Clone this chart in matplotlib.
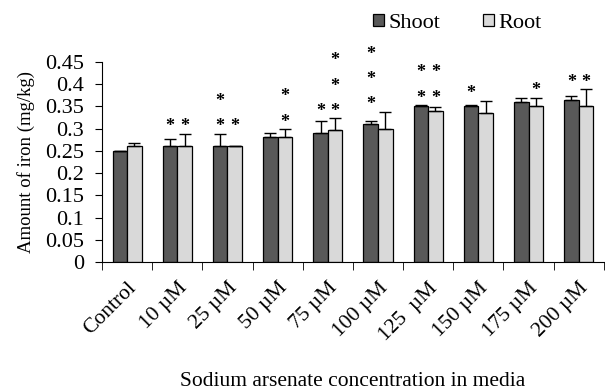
import numpy as np
import matplotlib
matplotlib.use('Agg')
import matplotlib.pyplot as plt

plt.rcParams['font.family'] = ['Liberation Serif', 'DejaVu Serif']

categories = ['Control', '10 µM', '25 µM', '50 µM', '75 µM', '100 µM',
              '125  µM', '150 µM', '175 µM', '200 µM']
shoot = [0.250, 0.260, 0.260, 0.281, 0.290, 0.310, 0.351, 0.351, 0.360, 0.364]
shoot_err = [0.000, 0.017, 0.029, 0.009, 0.027, 0.008, 0.002, 0.002, 0.009, 0.009]
root = [0.260, 0.260, 0.260, 0.281, 0.296, 0.299, 0.339, 0.336, 0.351, 0.351]
root_err = [0.008, 0.029, 0.001, 0.018, 0.027, 0.039, 0.009, 0.027, 0.018, 0.038]
# number of significance stars above each bar
shoot_stars = [0, 1, 2, 0, 1, 3, 2, 1, 0, 1]
root_stars = [0, 1, 1, 2, 3, 0, 2, 0, 1, 1]

shoot_color = '#595959'
root_color = '#d9d9d9'
width = 0.29
fontsize = 16

fig = plt.figure(figsize=(6.05, 3.9), dpi=100)
ax = fig.add_axes([0.1686, 0.328, 0.8294, 0.513])

x = np.arange(len(categories))
ax.bar(x - width / 2, shoot, width, color=shoot_color, edgecolor='black',
       linewidth=0.9, label='Shoot', zorder=2)
ax.bar(x + width / 2, root, width, color=root_color, edgecolor='black',
       linewidth=0.9, label='Root', zorder=2)
ax.errorbar(x - width / 2, shoot, yerr=[np.zeros(len(x)), shoot_err], fmt='none',
            ecolor='black', elinewidth=1, capsize=4, capthick=1, zorder=3)
ax.errorbar(x + width / 2, root, yerr=[np.zeros(len(x)), root_err], fmt='none',
            ecolor='black', elinewidth=1, capsize=4, capthick=1, zorder=3)

# stars sit above the higher error bar of each group
step = 0.057
for i in range(len(x)):
    top = max(shoot[i] + shoot_err[i], root[i] + root_err[i]) + 0.016
    for xs, n in ((x[i] - width / 2, shoot_stars[i]), (x[i] + width / 2, root_stars[i])):
        for k in range(n):
            ax.text(xs, top + k * step, '*', ha='center', va='center',
                    fontsize=13, fontweight='bold', clip_on=False)

ax.set_xlim(-0.5, len(x) - 0.5)
ax.set_ylim(0, 0.45)
ax.set_yticks(np.arange(0, 0.451, 0.05))
ax.set_yticklabels(['%g' % round(v, 2) for v in np.arange(0, 0.451, 0.05)], fontsize=fontsize)
ax.set_xticks(x)
ax.set_xticklabels(categories, rotation=45, ha='right', rotation_mode='anchor', fontsize=15.5)
ax.set_xticks(np.arange(-0.5, len(x), 1.0), minor=True)
ax.tick_params(axis='x', which='major', length=0, pad=12)
ax.tick_params(axis='x', which='minor', length=6, direction='out')
ax.tick_params(axis='y', length=5, direction='out', pad=8)

for s in ['top', 'right']:
    ax.spines[s].set_visible(False)

ax.set_ylabel('Amount of iron (mg/kg)', fontsize=13.5)
ax.yaxis.set_label_coords(-0.133, 0.5)
ax.set_xlabel('Sodium arsenate concentration in media', fontsize=15.5)
ax.xaxis.set_label_coords(0.5, -0.55)

fig.legend(loc='center', bbox_to_anchor=(0.756, 0.94), ncol=2, frameon=False,
           fontsize=16, handlelength=0.5, handleheight=0.5, handletextpad=0.2,
           columnspacing=1.9)

fig.savefig('out.png', dpi=100)
